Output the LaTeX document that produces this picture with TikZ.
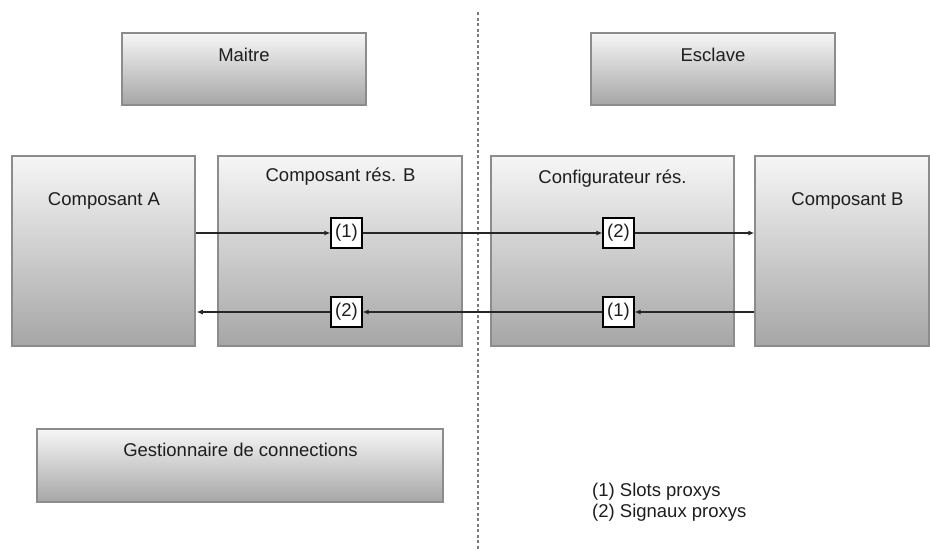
\documentclass[tikz,border=0pt]{standalone}
\usepackage{fontspec}
\setmainfont{Liberation Sans}
\usetikzlibrary{arrows.meta}
\definecolor{topg}{HTML}{F6F6F6}
\definecolor{botg}{HTML}{A6A6A6}
\definecolor{bordg}{HTML}{8C8C8C}
\definecolor{txtc}{HTML}{1E1E1E}
\definecolor{sepg}{HTML}{7A7A7A}
\tikzset{
  graybox/.style={rectangle, draw=bordg, line width=1.5pt, top color=topg, bottom color=botg, inner sep=0pt},
  smallbox/.style={rectangle, draw=black, fill=white, line width=1.1pt, minimum width=31pt, minimum height=30pt, inner sep=0pt, font=\fontsize{18.5}{22}\selectfont, text=txtc},
  lbl/.style={inner sep=0pt, font=\fontsize{18.5}{22}\selectfont, text=txtc},
  arr/.style={line width=1.1pt, draw=black!85, -{Latex[length=6pt,width=5pt]}},
  sepline/.style={draw=sepg, line width=2pt, dash pattern=on 3pt off 2.5pt}
}
\begin{document}
\begin{tikzpicture}[x=1pt,y=-1pt]
\useasboundingbox (0,0) rectangle (930,550);
\fill[white] (0,0) rectangle (930,550);

% separator
\coordinate (sepTop) at (477.5,12);
\coordinate (sepBot) at (477.5,550);
\draw[sepline] (sepTop) -- (sepBot);

% big boxes
\node[graybox, minimum width=244pt, minimum height=72pt] (maitre) at (244,69) {};
\node[lbl] (maitreT) at (244,55) {Maitre};
\node[graybox, minimum width=244pt, minimum height=72pt] (esclave) at (713,69) {};
\node[lbl] (esclaveT) at (713,55) {Esclave};

\node[graybox, minimum width=183pt, minimum height=190pt] (compA) at (103.5,251) {};
\node[lbl] (compAT) at (104,201) {Composant A};
\node[graybox, minimum width=244pt, minimum height=190pt] (compRB) at (340,251) {};
\node[lbl] (compRBT) at (340.5,177) {Composant rés. B};
\node[graybox, minimum width=243pt, minimum height=190pt] (conf) at (612.5,251) {};
\node[lbl] (confT) at (612.5,179) {Configurateur rés.};
\node[graybox, minimum width=174pt, minimum height=190pt] (compB) at (842,251) {};
\node[lbl] (compBT) at (847.5,201) {Composant B};

\node[graybox, minimum width=406pt, minimum height=73pt] (gest) at (240,465.5) {};
\node[lbl] (gestT) at (240.5,450) {Gestionnaire de connections};

% small proxy boxes
\node[smallbox] (b1t) at (346.5,233) {(1)};
\node[smallbox] (b2b) at (346.5,312) {(2)};
\node[smallbox] (b2t) at (618.5,233) {(2)};
\node[smallbox] (b1b) at (618.5,312) {(1)};

% connectors
\draw[arr] (compA.east |- b1t.west) -- (b1t.west);
\draw[arr] (b1t.east) -- (b2t.west);
\draw[arr] (b2t.east) -- (compB.west |- b2t.east);
\draw[arr] (compB.west |- b1b.east) -- (b1b.east);
\draw[arr] (b1b.west) -- (b2b.east);
\draw[arr] (b2b.west) -- ([xshift=1pt]compA.east |- b2b.west);

% legend
\node[lbl, anchor=west] (leg1) at (592,492) {(1) Slots proxys};
\node[lbl, anchor=west] (leg2) at (592,513) {(2) Signaux proxys};
\end{tikzpicture}
\end{document}
